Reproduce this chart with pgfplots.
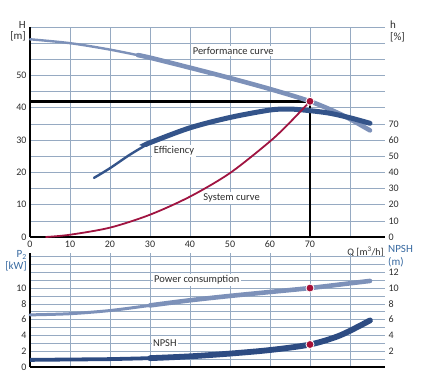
\documentclass[border=0pt]{standalone}
\usepackage{pgfplots}
\pgfplotsset{compat=1.18}
\usepackage{fontspec}
\setmainfont{Carlito}
\definecolor{gridc}{RGB}{150,170,194}
\definecolor{perf}{RGB}{125,145,185}
\definecolor{eff}{RGB}{52,84,138}
\definecolor{sysc}{RGB}{160,20,65}
\definecolor{npsh}{RGB}{45,75,130}
\definecolor{dotc}{RGB}{165,15,55}
\definecolor{lab}{RGB}{55,105,160}
\definecolor{tl}{RGB}{45,45,45}
\pgfplotsset{
  base/.style={
    scale only axis, width=355pt, xmin=0, xmax=88.75,
    axis x line*=bottom, axis y line*=left,
    x axis line style={-, line width=2.4pt},
    y axis line style={-, line width=2.4pt},
    grid=both, major grid style={gridc, line width=0.6pt},
    minor grid style={gridc, line width=0.6pt},
    major tick length=0pt, minor tick length=0pt,
    tick label style={font=\fontsize{10}{12}\selectfont, text=tl},
    /pgf/number format/assume math mode=true,
    clip=false,
  },
}
\tikzset{lbl/.style={font=\fontsize{10.5}{12}\selectfont, text=tl, fill=white, inner sep=1.5pt}}
\begin{document}
\begin{tikzpicture}
\path[use as bounding box] (-30pt,-141pt) rectangle (393pt,237pt);
% ---------- top panel ----------
\begin{axis}[base, height=210pt, ymin=0, ymax=65,
  xtick={0,10,...,70}, minor xtick={80},
  ytick={0,10,...,50}, minor ytick={5,15,25,35,45,55,60,65}]
\addplot[black, line width=2.4pt] coordinates {(0,42) (70,42) (70,0)};
% performance curve
\addplot[perf, line width=2.4pt, smooth, line cap=round] coordinates {
 (0,61.2) (10,60) (20,58) (30,55.5)};
\addplot[perf, line width=4.6pt, smooth, line cap=round] coordinates {
 (27,56.3) (30,55.5) (40,52.4) (50,49.2) (60,45.8) (70,42) (78,37.8) (85,33)};
% efficiency
\addplot[eff, line width=2.4pt, smooth, line cap=round] coordinates {
 (16,18.3) (20,21.3) (25,25.5) (30,29.2)};
\addplot[eff, line width=5pt, smooth, line cap=round] coordinates {
 (29,28.6) (30,29.2) (40,33.8) (50,37) (60,39.3) (65,39.6) (70,39.1) (75,38.3) (80,36.9) (85,35.2)};
% system curve
\addplot[sysc, line width=1.8pt, smooth, line cap=round] coordinates {
 (4,0) (10,0.7) (20,2.9) (30,6.9) (40,12.5) (50,19.8) (60,29.6) (65,35.5) (70,42)};
\addplot[only marks, mark=*, mark size=4pt, dotc, mark options={draw=white, line width=0.8pt, fill=dotc}] coordinates {(70,42)};
\node[lbl] at (axis cs:50.8,57.6) {Performance curve};
\node[lbl] at (axis cs:36,26.7) {Efficiency};
\node[lbl] at (axis cs:50.4,12) {System curve};
\node[font=\fontsize{10}{12}\selectfont, text=tl, anchor=north, inner sep=0pt] at (axis cs:83.9,-3) {Q [m\textsuperscript{3}/h]};
\node[font=\fontsize{11}{11.5}\selectfont, text=tl, anchor=north east, align=right, inner sep=0pt] at ([xshift=-4pt,yshift=6pt]rel axis cs:0,1) {H\\{[m]}};
\node[font=\fontsize{11}{11.5}\selectfont, text=tl, anchor=north west, align=left, inner sep=0pt] at ([xshift=5pt,yshift=6pt]rel axis cs:1,1) {h\\{[\%]}};
\end{axis}
\begin{axis}[scale only axis, width=355pt, height=210pt, xmin=0, xmax=1, ymin=0, ymax=130,
  hide x axis, axis y line*=right, y axis line style={draw=none},
  ytick={0,10,...,70}, major tick length=0pt,
  tick label style={font=\fontsize{10}{12}\selectfont, text=tl},
  /pgf/number format/assume math mode=true]
\end{axis}
% ---------- bottom panel ----------
\begin{axis}[base, at={(0pt,-130pt)}, anchor=south west, height=114.5pt, ymin=0, ymax=14.5,
  xtick={0,10,...,80}, xticklabels={},
  ytick={0,2,...,10}, minor ytick={1,3,5,7,9,11,12,13,14}]
\addplot[perf, line width=3pt, smooth, line cap=round] coordinates {
 (0,6.6) (10,6.75) (20,7.15) (30,7.8)};
\addplot[perf, line width=4.6pt, smooth, line cap=round] coordinates {
 (30,7.8) (40,8.45) (50,9.0) (60,9.5) (70,10.0) (80,10.6) (85,10.9)};
\addplot[npsh, line width=3.8pt, smooth] coordinates {
 (0,0.9) (10,0.95) (20,1.0) (30,1.12)};
\addplot[npsh, line width=5.8pt, smooth, line cap=round] coordinates {
 (30,1.12) (40,1.35) (50,1.7) (60,2.15) (70,2.85) (77.5,4.0) (85,5.9)};
\addplot[only marks, mark=*, mark size=4pt, dotc, mark options={draw=white, line width=0.8pt, fill=dotc}] coordinates {(70,10.0) (70,2.85)};
\node[lbl] at (axis cs:41.7,11) {Power consumption};
\node[lbl] at (axis cs:33.7,3) {NPSH};
\node[font=\fontsize{11}{11.5}\selectfont, text=lab, anchor=north east, align=right, inner sep=0pt] at ([xshift=-3pt,yshift=2pt]rel axis cs:0,1) {P\textsubscript{2}\\{[kW]}};
\node[font=\fontsize{11}{12.5}\selectfont, text=lab, anchor=north west, align=left, inner sep=0pt] at ([xshift=3pt,yshift=7pt]rel axis cs:1,1) {NPSH\\(m)};
\end{axis}
\begin{axis}[scale only axis, width=355pt, height=114.5pt, at={(0pt,-130pt)}, anchor=south west,
  xmin=0, xmax=1, ymin=0, ymax=14.5,
  hide x axis, axis y line*=right, y axis line style={draw=none},
  ytick={2,4,...,12}, major tick length=0pt,
  tick label style={font=\fontsize{10}{12}\selectfont, text=tl},
  /pgf/number format/assume math mode=true]
\end{axis}
\end{tikzpicture}
\end{document}
